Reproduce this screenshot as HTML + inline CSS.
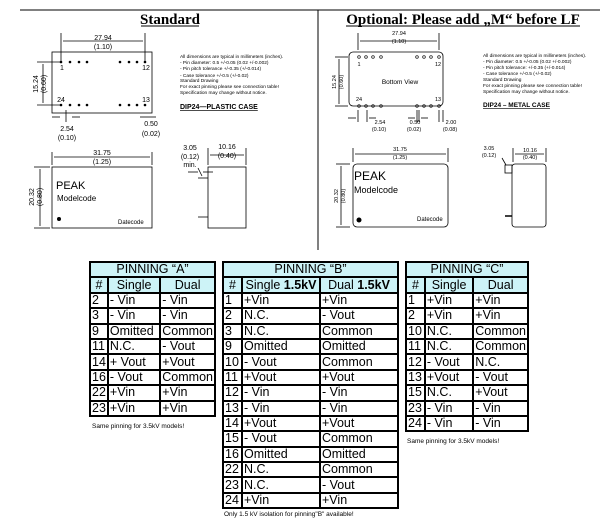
<!DOCTYPE html>
<html><head><meta charset="utf-8"><style>
body{margin:0;width:615px;height:529px;background:#fff;position:relative;overflow:hidden;font-family:"Liberation Sans",sans-serif}
svg{position:absolute;left:0;top:0}
table{position:absolute;border-collapse:collapse;font-family:"Liberation Sans",sans-serif;font-size:12.5px;line-height:13px}
td{border:2px solid #000;padding:0 1px;height:13.4px;white-space:nowrap;overflow:hidden}
td.h{background:#cdf3f7;text-align:center}
.n{position:absolute;font-size:6.5px;white-space:nowrap}
</style></head><body>
<svg width="615" height="255" font-family="Liberation Sans, sans-serif">
<line x1="20" y1="10" x2="600" y2="10" stroke="#000" stroke-width="1"/>
<line x1="318" y1="10" x2="318" y2="250" stroke="#000" stroke-width="1"/>
<text x="170" y="24" font-family="Liberation Serif, serif" font-weight="bold" font-size="15" text-anchor="middle">Standard</text>
<line x1="141" y1="26" x2="199" y2="26" stroke="#000"/>
<text x="463" y="24" font-family="Liberation Serif, serif" font-weight="bold" font-size="15" text-anchor="middle">Optional: Please add „M“ before LF</text>
<line x1="346" y1="26" x2="580" y2="26" stroke="#000"/>
<g stroke="#000" fill="none" stroke-width="0.8">
<rect x="52" y="52" width="100" height="61"/>
<line x1="61" y1="33" x2="61" y2="62"/><line x1="145" y1="33" x2="145" y2="62"/>
<line x1="63" y1="41" x2="143" y2="41"/>
<line x1="37" y1="62" x2="60" y2="62"/><line x1="37" y1="105" x2="60" y2="105"/>
<line x1="43" y1="64" x2="43" y2="103"/>
<line x1="52" y1="117" x2="60" y2="117"/><line x1="72" y1="117" x2="80" y2="117"/>
<line x1="66" y1="110" x2="66" y2="122"/>
<line x1="140" y1="117" x2="156" y2="117"/>
<rect x="52" y="167" width="100" height="61"/>
<line x1="52" y1="152" x2="52" y2="165"/><line x1="152" y1="152" x2="152" y2="165"/>
<line x1="54" y1="157" x2="150" y2="157"/>
<line x1="34" y1="167" x2="50" y2="167"/><line x1="34" y1="228" x2="50" y2="228"/>
<line x1="40" y1="169" x2="40" y2="226"/>
<rect x="208" y="167" width="38" height="61"/>
<line x1="208" y1="148" x2="208" y2="165"/><line x1="246" y1="148" x2="246" y2="165"/>
<line x1="210" y1="155" x2="244" y2="155"/>
<line x1="188" y1="172" x2="198" y2="172"/><line x1="203" y1="172" x2="213" y2="172"/>
<line x1="198" y1="168" x2="202" y2="176"/>
<line x1="198" y1="178" x2="208" y2="178"/>
<line x1="198" y1="217" x2="208" y2="217"/>
<rect x="349" y="52" width="94" height="54" rx="4"/>
<line x1="358" y1="33" x2="358" y2="50"/><line x1="439" y1="33" x2="439" y2="50"/>
<line x1="360" y1="41" x2="437" y2="41"/>
<line x1="335" y1="57" x2="348" y2="57"/><line x1="335" y1="106" x2="348" y2="106"/>
<line x1="339" y1="59" x2="339" y2="104"/>
<line x1="358" y1="110" x2="358" y2="122"/><line x1="367" y1="110" x2="367" y2="122"/>
<line x1="348" y1="118" x2="356" y2="118"/><line x1="369" y1="118" x2="376" y2="118"/>
<line x1="417" y1="110" x2="417" y2="122"/><line x1="419" y1="110" x2="419" y2="122"/>
<line x1="408" y1="118" x2="415" y2="118"/><line x1="421" y1="118" x2="428" y2="118"/>
<line x1="439" y1="110" x2="439" y2="122"/><line x1="443" y1="110" x2="443" y2="122"/>
<rect x="353" y="164" width="95" height="63" rx="4"/>
<line x1="353" y1="148" x2="353" y2="162"/><line x1="448" y1="148" x2="448" y2="162"/>
<line x1="355" y1="154" x2="446" y2="154"/>
<line x1="336" y1="164" x2="350" y2="164"/><line x1="336" y1="227" x2="350" y2="227"/>
<line x1="341" y1="166" x2="341" y2="225"/>
<rect x="512" y="164" width="34" height="63" rx="3"/>
<line x1="513" y1="148" x2="513" y2="162"/><line x1="546" y1="148" x2="546" y2="162"/>
<line x1="515" y1="154" x2="544" y2="154"/>
<rect x="505" y="165" width="7" height="8"/>
<line x1="502" y1="158" x2="506" y2="165"/>
<line x1="505" y1="216" x2="512" y2="216" stroke-width="1.5"/>
</g>
<g fill="#000">
<g><circle cx="61" cy="62" r="1.3"/><circle cx="70" cy="62" r="1.3"/><circle cx="79" cy="62" r="1.3"/><circle cx="87" cy="62" r="1.3"/><circle cx="120" cy="62" r="1.3"/><circle cx="129" cy="62" r="1.3"/><circle cx="137" cy="62" r="1.3"/><circle cx="145" cy="62" r="1.3"/>
<circle cx="61" cy="105" r="1.3"/><circle cx="70" cy="105" r="1.3"/><circle cx="79" cy="105" r="1.3"/><circle cx="87" cy="105" r="1.3"/><circle cx="120" cy="105" r="1.3"/><circle cx="129" cy="105" r="1.3"/><circle cx="137" cy="105" r="1.3"/><circle cx="145" cy="105" r="1.3"/></g>
<g fill="none" stroke="#000" stroke-width="0.7"><circle cx="359" cy="57" r="1.3"/><circle cx="366" cy="57" r="1.3"/><circle cx="373" cy="57" r="1.3"/><circle cx="381" cy="57" r="1.3"/><circle cx="417" cy="57" r="1.3"/><circle cx="424" cy="57" r="1.3"/><circle cx="431" cy="57" r="1.3"/><circle cx="439" cy="57" r="1.3"/>
<circle cx="359" cy="106" r="1.3"/><circle cx="366" cy="106" r="1.3"/><circle cx="373" cy="106" r="1.3"/><circle cx="381" cy="106" r="1.3"/><circle cx="417" cy="106" r="1.3"/><circle cx="424" cy="106" r="1.3"/><circle cx="431" cy="106" r="1.3"/><circle cx="439" cy="106" r="1.3"/></g>
<circle cx="59" cy="219" r="2"/><circle cx="359" cy="220" r="2.5"/>
<g font-size="7" text-anchor="middle">
<text x="103" y="40">27.94</text><text x="103" y="49">(1.10)</text>
<text x="62" y="70">1</text><text x="146" y="70">12</text><text x="61" y="102">24</text><text x="146" y="102">13</text>
<text x="67" y="131">2.54</text><text x="67" y="140">(0.10)</text>
<text x="151" y="126">0.50</text><text x="151" y="136">(0.02)</text>
<text x="102" y="155">31.75</text><text x="102" y="164">(1.25)</text>
<text x="190" y="150">3.05</text><text x="190" y="159">(0.12)</text><text x="190" y="167">min.</text>
<text x="227" y="149">10.16</text><text x="227" y="158">(0.40)</text>
<text transform="translate(38,84) rotate(-90)">15.24</text><text transform="translate(46,84) rotate(-90)">(0.60)</text>
<text transform="translate(34,197) rotate(-90)">20.32</text><text transform="translate(42,197) rotate(-90)">(0.80)</text>
</g>
<g font-size="5.5" text-anchor="middle">
<text x="399" y="35">27.94</text><text x="399" y="43">(1.10)</text>
<text x="359" y="66">1</text><text x="438" y="66">12</text><text x="359" y="101">24</text><text x="438" y="101">13</text>
<text x="400" y="84" font-size="6.5">Bottom View</text>
<text x="380" y="124">2.54</text><text x="379" y="131">(0.10)</text>
<text x="415" y="124">0.50</text><text x="414" y="131">(0.02)</text>
<text x="451" y="124">2.00</text><text x="450" y="131">(0.08)</text>
<text x="400" y="151">31.75</text><text x="400" y="159">(1.25)</text>
<text x="489" y="150">3.05</text><text x="489" y="157">(0.12)</text>
<text x="530" y="152">10.16</text><text x="530" y="159">(0.40)</text>
<text transform="translate(336,82) rotate(-90)">15.24</text><text transform="translate(343,82) rotate(-90)">(0.60)</text>
<text transform="translate(338,196) rotate(-90)">20.32</text><text transform="translate(345,196) rotate(-90)">(0.80)</text>
</g>
<text x="56" y="189" font-size="11">PEAK</text>
<text x="57" y="201" font-size="8">Modelcode</text>
<text x="118" y="224" font-size="6">Datecode</text>
<text x="354" y="180" font-size="12">PEAK</text>
<text x="354" y="193" font-size="9">Modelcode</text>
<text x="417" y="221" font-size="6">Datecode</text>
<g font-size="4.8">
<text x="180" y="58">All dimensions are typical in millimeters (inches).</text>
<text x="180" y="64">- Pin diameter: 0.5 +/-0.05 (0.02 +/-0.002)</text>
<text x="180" y="70">- Pin pitch tolerance +/-0.35 (+/-0.014)</text>
<text x="180" y="77">- Case tolerance +/-0.5 (+/-0.02)</text>
<text x="180" y="82">Standard Drawing</text>
<text x="180" y="88">For exact pinning please see connection table!</text>
<text x="180" y="94">Specification may change without notice.</text>
<text x="483" y="57">All dimensions are typical in millimeters (inches).</text>
<text x="483" y="63">- Pin diameter: 0.5 +/-0.05 (0.02 +/-0.002)</text>
<text x="483" y="69">- Pin pitch tolerance: +/-0.35 (+/-0.014)</text>
<text x="483" y="75">- Case tolerance +/-0.5 (+/-0.02)</text>
<text x="483" y="81">Standard Drawing</text>
<text x="483" y="87">For exact pinning please see connection table!</text>
<text x="483" y="93">Specification may change without notice.</text>
</g>
<text x="180" y="109" font-size="7" font-weight="bold" text-decoration="underline">DIP24—PLASTIC CASE</text>
<text x="483" y="107" font-size="6.5" font-weight="bold" text-decoration="underline">DIP24 – METAL CASE</text>
</g>
</svg>

<table style="left:89px;top:261px;width:127px">
<tr><td class="h" colspan="3">PINNING “A”</td></tr>
<tr><td class="h" style="width:13px">#</td><td class="h" style="width:52px">Single</td><td class="h">Dual</td></tr>
<tr><td>2</td><td>- Vin</td><td>- Vin</td></tr>
<tr><td>3</td><td>- Vin</td><td>- Vin</td></tr>
<tr><td>9</td><td>Omitted</td><td>Common</td></tr>
<tr><td>11</td><td>N.C.</td><td>- Vout</td></tr>
<tr><td>14</td><td>+ Vout</td><td>+Vout</td></tr>
<tr><td>16</td><td>- Vout</td><td>Common</td></tr>
<tr><td>22</td><td>+Vin</td><td>+Vin</td></tr>
<tr><td>23</td><td>+Vin</td><td>+Vin</td></tr>
</table>
<div class="n" style="left:92px;top:423px">Same pinning for 3.5kV models!</div>

<table style="left:222px;top:261px;width:177px">
<tr><td class="h" colspan="3">PINNING “B”</td></tr>
<tr><td class="h" style="width:15px">#</td><td class="h" style="width:74px">Single <b>1.5kV</b></td><td class="h">Dual <b>1.5kV</b></td></tr>
<tr><td>1</td><td>+Vin</td><td>+Vin</td></tr>
<tr><td>2</td><td>N.C.</td><td>- Vout</td></tr>
<tr><td>3</td><td>N.C.</td><td>Common</td></tr>
<tr><td>9</td><td>Omitted</td><td>Omitted</td></tr>
<tr><td>10</td><td>- Vout</td><td>Common</td></tr>
<tr><td>11</td><td>+Vout</td><td>+Vout</td></tr>
<tr><td>12</td><td>- Vin</td><td>- Vin</td></tr>
<tr><td>13</td><td>- Vin</td><td>- Vin</td></tr>
<tr><td>14</td><td>+Vout</td><td>+Vout</td></tr>
<tr><td>15</td><td>- Vout</td><td>Common</td></tr>
<tr><td>16</td><td>Omitted</td><td>Omitted</td></tr>
<tr><td>22</td><td>N.C.</td><td>Common</td></tr>
<tr><td>23</td><td>N.C.</td><td>- Vout</td></tr>
<tr><td>24</td><td>+Vin</td><td>+Vin</td></tr>
</table>
<div class="n" style="left:224px;top:511px">Only 1.5 kV isolation for pinning"B" available!</div>

<table style="left:405px;top:261px;width:124px">
<tr><td class="h" colspan="3">PINNING “C”</td></tr>
<tr><td class="h" style="width:15px">#</td><td class="h" style="width:45px">Single</td><td class="h">Dual</td></tr>
<tr><td>1</td><td>+Vin</td><td>+Vin</td></tr>
<tr><td>2</td><td>+Vin</td><td>+Vin</td></tr>
<tr><td>10</td><td>N.C.</td><td>Common</td></tr>
<tr><td>11</td><td>N.C.</td><td>Common</td></tr>
<tr><td>12</td><td>- Vout</td><td>N.C.</td></tr>
<tr><td>13</td><td>+Vout</td><td>- Vout</td></tr>
<tr><td>15</td><td>N.C.</td><td>+Vout</td></tr>
<tr><td>23</td><td>- Vin</td><td>- Vin</td></tr>
<tr><td>24</td><td>- Vin</td><td>- Vin</td></tr>
</table>
<div class="n" style="left:407px;top:438px">Same pinning for 3.5kV models!</div>
</body></html>
